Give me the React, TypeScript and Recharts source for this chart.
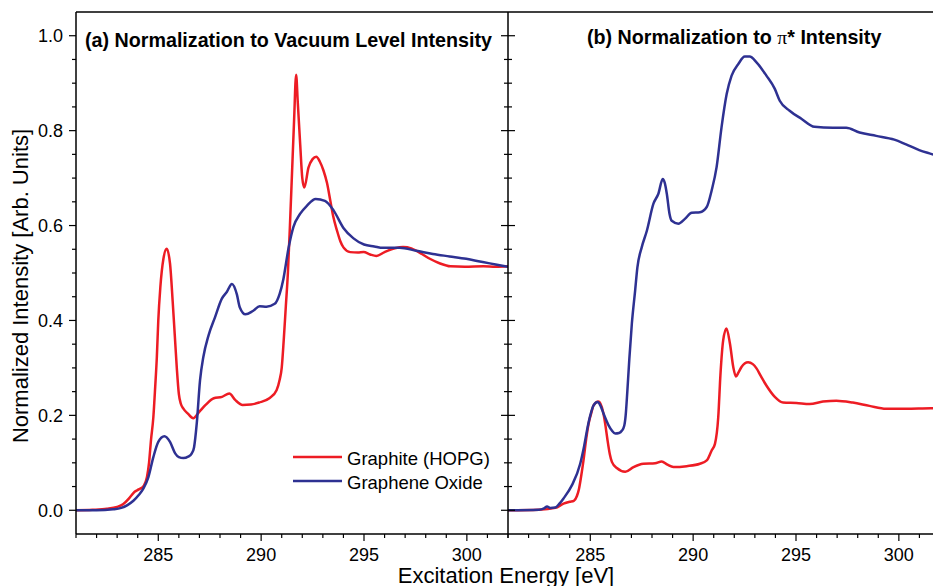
import { LineChart, Line, XAxis, YAxis, Legend } from 'recharts'

// energy grid ticks (eV) and intensity ticks
const energyTicks = [281, 282, 283, 284, 285, 286, 287, 288, 289, 290, 291, 292, 293, 294, 295, 296, 297, 298, 299, 300, 301, 302]
const intensityTicks = [0, 0.05, 0.1, 0.15, 0.2, 0.25, 0.3, 0.35, 0.4, 0.45, 0.5, 0.55, 0.6, 0.65, 0.7, 0.75, 0.8, 0.85, 0.9, 0.95, 1.0]
const legendOrder = ['Graphite (HOPG)', 'Graphene Oxide']

// (a) normalized to vacuum level intensity: [energy, intensity]
const graphiteVacuum: [number, number][] = [
  [281.0, 0.0], [281.8, 0.001], [282.5, 0.003], [283.0, 0.007], [283.3, 0.013], [283.6, 0.026], [283.85, 0.039],
  [284.05, 0.044], [284.3, 0.052], [284.45, 0.07], [284.55, 0.1], [284.65, 0.15], [284.76, 0.196], [284.85, 0.26],
  [284.93, 0.323], [285.0, 0.4], [285.1, 0.47], [285.25, 0.53], [285.41, 0.551], [285.57, 0.52], [285.7, 0.44],
  [285.8, 0.37], [285.9, 0.3], [286.0, 0.245], [286.1, 0.224], [286.22, 0.214], [286.45, 0.203], [286.7, 0.194],
  [287.0, 0.208], [287.3, 0.222], [287.7, 0.236], [288.1, 0.239], [288.45, 0.246], [288.75, 0.232], [289.1, 0.222],
  [289.5, 0.223], [289.9, 0.227], [290.4, 0.236], [290.75, 0.253], [290.9, 0.275], [291.0, 0.3], [291.1, 0.36],
  [291.2, 0.43], [291.3, 0.5], [291.4, 0.6], [291.5, 0.71], [291.6, 0.82], [291.7, 0.918], [291.78, 0.86],
  [291.9, 0.77], [292.0, 0.7], [292.1, 0.68], [292.3, 0.722], [292.5, 0.74], [292.68, 0.745], [292.85, 0.735],
  [293.03, 0.716], [293.2, 0.69], [293.36, 0.653], [293.5, 0.62], [293.69, 0.589], [293.85, 0.567], [294.0, 0.554],
  [294.33, 0.544], [294.7, 0.543], [294.98, 0.544], [295.3, 0.539], [295.6, 0.536], [296.0, 0.544], [296.5, 0.552],
  [296.9, 0.555], [297.3, 0.552], [297.7, 0.543], [298.2, 0.53], [298.7, 0.52], [299.2, 0.514], [299.9, 0.513],
  [300.8, 0.514], [301.4, 0.513], [302.0, 0.514],
]
const grapheneOxideVacuum: [number, number][] = [
  [281.0, 0.0], [282.0, 0.0], [282.8, 0.002], [283.2, 0.005], [283.5, 0.011], [283.79, 0.02], [284.05, 0.032],
  [284.28, 0.046], [284.52, 0.07], [284.76, 0.112], [285.0, 0.144], [285.3, 0.156], [285.57, 0.144], [285.82, 0.12],
  [286.0, 0.112], [286.22, 0.11], [286.45, 0.113], [286.63, 0.12], [286.74, 0.133], [286.87, 0.183], [287.03, 0.274],
  [287.19, 0.323], [287.44, 0.368], [287.76, 0.407], [288.09, 0.446], [288.33, 0.46], [288.58, 0.477], [288.82, 0.455],
  [288.96, 0.428], [289.24, 0.413], [289.6, 0.42], [289.93, 0.43], [290.26, 0.429], [290.66, 0.435], [290.9, 0.456],
  [291.08, 0.487], [291.33, 0.552], [291.57, 0.597], [291.9, 0.625], [292.23, 0.642], [292.65, 0.656], [293.1, 0.652],
  [293.52, 0.632], [294.0, 0.595], [294.49, 0.573], [295.0, 0.56], [295.5, 0.556], [295.92, 0.553], [296.73, 0.553],
  [297.54, 0.547], [298.35, 0.54], [299.16, 0.535], [299.97, 0.53], [300.77, 0.523], [301.4, 0.518], [302.0, 0.513],
]

// (b) normalized to pi* intensity
const graphitePi: [number, number][] = [
  [281.0, 0.0], [282.5, 0.001], [283.3, 0.005], [283.7, 0.014], [284.0, 0.018], [284.2, 0.02], [284.35, 0.03],
  [284.45, 0.045], [284.55, 0.07], [284.67, 0.105], [284.8, 0.15], [284.92, 0.183], [285.05, 0.205], [285.16, 0.221],
  [285.4, 0.229], [285.64, 0.204], [285.75, 0.175], [285.84, 0.147], [285.95, 0.118], [286.05, 0.102], [286.29, 0.089],
  [286.7, 0.081], [287.1, 0.091], [287.58, 0.098], [288.15, 0.099], [288.47, 0.103], [288.75, 0.096], [289.04, 0.091],
  [289.69, 0.093], [290.33, 0.098], [290.66, 0.105], [290.9, 0.126], [291.06, 0.14], [291.22, 0.196], [291.33, 0.288],
  [291.46, 0.358], [291.62, 0.383], [291.79, 0.351], [291.95, 0.302], [292.08, 0.282], [292.2, 0.29], [292.35, 0.302],
  [292.67, 0.312], [292.9, 0.308], [293.08, 0.299], [293.3, 0.282], [293.56, 0.263], [293.97, 0.239], [294.37, 0.227],
  [295.02, 0.226], [295.66, 0.224], [296.31, 0.229], [296.96, 0.231], [297.76, 0.227], [298.57, 0.22], [299.38, 0.214],
  [300.35, 0.214], [301.56, 0.215], [302.0, 0.215],
]
const grapheneOxidePi: [number, number][] = [
  [281.0, 0.0], [282.5, 0.001], [282.75, 0.004], [282.9, 0.008], [283.05, 0.005], [283.3, 0.006], [283.5, 0.014],
  [283.7, 0.025], [284.11, 0.053], [284.51, 0.098], [284.7, 0.135], [284.87, 0.175], [285.0, 0.2], [285.16, 0.221],
  [285.35, 0.228], [285.5, 0.22], [285.64, 0.204], [285.89, 0.179], [286.05, 0.168], [286.21, 0.162], [286.4, 0.163],
  [286.54, 0.168], [286.65, 0.178], [286.72, 0.2], [286.8, 0.25], [286.9, 0.32], [287.02, 0.393], [287.18, 0.463],
  [287.29, 0.512], [287.5, 0.554], [287.75, 0.589], [288.07, 0.646], [288.31, 0.667], [288.52, 0.698], [288.62, 0.69],
  [288.72, 0.667], [288.85, 0.625], [288.96, 0.61], [289.28, 0.604], [289.6, 0.614], [289.93, 0.627], [290.33, 0.628],
  [290.66, 0.639], [290.9, 0.674], [291.14, 0.723], [291.38, 0.807], [291.63, 0.877], [291.87, 0.916], [292.19, 0.94],
  [292.51, 0.956], [292.75, 0.956], [293.08, 0.944], [293.56, 0.916], [293.97, 0.888], [294.21, 0.863], [294.69, 0.842],
  [295.26, 0.825], [295.9, 0.808], [296.79, 0.806], [297.44, 0.806], [298.09, 0.796], [298.9, 0.789], [299.78, 0.781],
  [300.35, 0.771], [300.99, 0.759], [301.56, 0.751], [302.0, 0.745],
]

const RED = '#ED1C24'
const BLUE = '#2E3192'
const FONT = '"Liberation Sans", Arial, sans-serif'

const rows = (pts: [number, number][]) => pts.map(([e, v]) => ({ e, v }))
const majorX = (v: number) => v % 5 === 0
const majorY = (v: number) => Math.abs(v * 5 - Math.round(v * 5)) < 1e-6

// bottom axis: outward ticks with labels on the majors
const BottomTick = (p: any) => {
  const v = p.payload.value
  const big = majorX(v)
  return (
    <g>
      <line x1={p.x} x2={p.x} y1={p.y} y2={p.y + (big ? 7 : 4)} stroke="#000" strokeWidth={1.2} />
      {big && (
        <text x={p.x} y={p.y + 27} textAnchor="middle" fontSize={18} fill="#000" fontFamily={FONT}>{v}</text>
      )}
    </g>
  )
}

// top axis: short inward ticks, no labels
const TopTick = (p: any) => (
  <line x1={p.x} x2={p.x} y1={p.y} y2={p.y + 5} stroke="#000" strokeWidth={1.2} />
)

const LeftTick = (p: any) => {
  const v = p.payload.value
  const big = majorY(v)
  return (
    <g>
      <line x1={p.x - (big ? 7 : 4)} x2={p.x} y1={p.y} y2={p.y} stroke="#000" strokeWidth={1.2} />
      {big && (
        <text x={p.x - 13} y={p.y + 6.5} textAnchor="end" fontSize={18} fill="#000" fontFamily={FONT}>{v.toFixed(1)}</text>
      )}
    </g>
  )
}

// shared border between panels: ticks on both sides
const MiddleTick = (p: any) => {
  const len = majorY(p.payload.value) ? 7 : 4
  return <line x1={p.x - len} x2={p.x + len} y1={p.y} y2={p.y} stroke="#000" strokeWidth={1.2} />
}

const RightTick = (p: any) => {
  const len = majorY(p.payload.value) ? 7 : 4
  return <line x1={p.x - len} x2={p.x} y1={p.y} y2={p.y} stroke="#000" strokeWidth={1.2} />
}

const axisLine = { stroke: '#000', strokeWidth: 1.5 }

const LegendBox = (props: any) => {
  const items = [...(props.payload || [])].sort(
    (a: any, b: any) => legendOrder.indexOf(a.value) - legendOrder.indexOf(b.value),
  )
  return (
    <svg width={210} height={50} style={{ display: 'block' }}>
      {items.map((it: any, i: number) => (
        <g key={it.value}>
          <line x1={0} x2={49} y1={10 + i * 24} y2={10 + i * 24} stroke={it.color} strokeWidth={2.5} />
          <text x={54} y={18 + i * 24} fontSize={18.5} fill="#000" fontFamily={FONT}>{it.value}</text>
        </g>
      ))}
    </svg>
  )
}

export default function App() {
  return (
    <div style={{ position: 'absolute', left: 0, top: 0, width: 933, height: 586, overflow: 'hidden', background: '#fff', fontFamily: FONT }}>
      <div style={{ position: 'absolute', left: 0, top: 0 }}>
        <LineChart width={933} height={586} margin={{ top: 11, right: 425, bottom: 0, left: 0 }}>
          <XAxis
            dataKey="e" type="number" domain={[281, 302]} ticks={energyTicks} interval={0}
            allowDataOverflow height={52} tickSize={0} tickMargin={0} tickLine={false}
            axisLine={axisLine} tick={BottomTick}
            label={() => (
              <text x={506} y={583} textAnchor="middle" fontSize={22} fill="#000" fontFamily={FONT}>Excitation Energy [eV]</text>
            )}
          />
          <XAxis
            xAxisId="top" orientation="top" type="number" domain={[281, 302]} ticks={energyTicks} interval={0}
            allowDataOverflow height={1} tickSize={0} tickMargin={0} tickLine={false}
            axisLine={axisLine} tick={TopTick}
            label={() => (
              <text x={85} y={47} fontSize={19.7} fontWeight="bold" fill="#000" fontFamily={FONT}>
                (a) Normalization to Vacuum Level Intensity
              </text>
            )}
          />
          <YAxis
            type="number" domain={[-0.05, 1.05]} ticks={intensityTicks} interval={0} allowDataOverflow
            width={76} tickSize={0} tickMargin={0} tickLine={false} axisLine={axisLine} tick={LeftTick}
            label={() => (
              <text x={28} y={286} transform="rotate(-90 28 286)" textAnchor="middle" fontSize={22} fill="#000" fontFamily={FONT}>
                Normalized Intensity [Arb. Units]
              </text>
            )}
          />
          <Legend
            layout="vertical" align="center" verticalAlign="middle" content={LegendBox}
            wrapperStyle={{ position: 'absolute', left: 293, top: 447, width: 210, height: 50, margin: 0 }}
          />
          <Line data={rows(graphiteVacuum)} dataKey="v" name="Graphite (HOPG)" type="monotone" stroke={RED}
            strokeWidth={2.5} dot={false} activeDot={false} isAnimationActive={false} />
          <Line data={rows(grapheneOxideVacuum)} dataKey="v" name="Graphene Oxide" type="monotone" stroke={BLUE}
            strokeWidth={2.5} dot={false} activeDot={false} isAnimationActive={false} />
        </LineChart>
      </div>
      <div style={{ position: 'absolute', left: 0, top: 0 }}>
        <LineChart width={952} height={586} margin={{ top: 11, right: 0, bottom: 0, left: 496 }}>
          <XAxis
            dataKey="e" type="number" domain={[281, 302]} ticks={energyTicks} interval={0}
            allowDataOverflow height={52} tickSize={0} tickMargin={0} tickLine={false}
            axisLine={axisLine} tick={BottomTick}
          />
          <XAxis
            xAxisId="top" orientation="top" type="number" domain={[281, 302]} ticks={energyTicks} interval={0}
            allowDataOverflow height={1} tickSize={0} tickMargin={0} tickLine={false}
            axisLine={axisLine} tick={TopTick}
            label={() => (
              <text x={587} y={44} fontSize={19.7} fontWeight="bold" fill="#000" fontFamily={FONT}>
                (b) Normalization to <tspan fontFamily="serif" fontWeight="normal">π</tspan>* Intensity
              </text>
            )}
          />
          <YAxis
            type="number" domain={[-0.05, 1.05]} ticks={intensityTicks} interval={0} allowDataOverflow
            width={12} tickSize={0} tickMargin={0} tickLine={false} axisLine={axisLine} tick={MiddleTick}
          />
          <YAxis
            yAxisId="r" orientation="right" type="number" domain={[-0.05, 1.05]} ticks={intensityTicks} interval={0}
            allowDataOverflow width={12} tickSize={0} tickMargin={0} tickLine={false} axisLine={axisLine} tick={RightTick}
          />
          <Line data={rows(graphitePi)} dataKey="v" name="Graphite (HOPG)" type="monotone" stroke={RED}
            strokeWidth={2.5} dot={false} activeDot={false} isAnimationActive={false} />
          <Line data={rows(grapheneOxidePi)} dataKey="v" name="Graphene Oxide" type="monotone" stroke={BLUE}
            strokeWidth={2.5} dot={false} activeDot={false} isAnimationActive={false} />
        </LineChart>
      </div>
    </div>
  )
}
